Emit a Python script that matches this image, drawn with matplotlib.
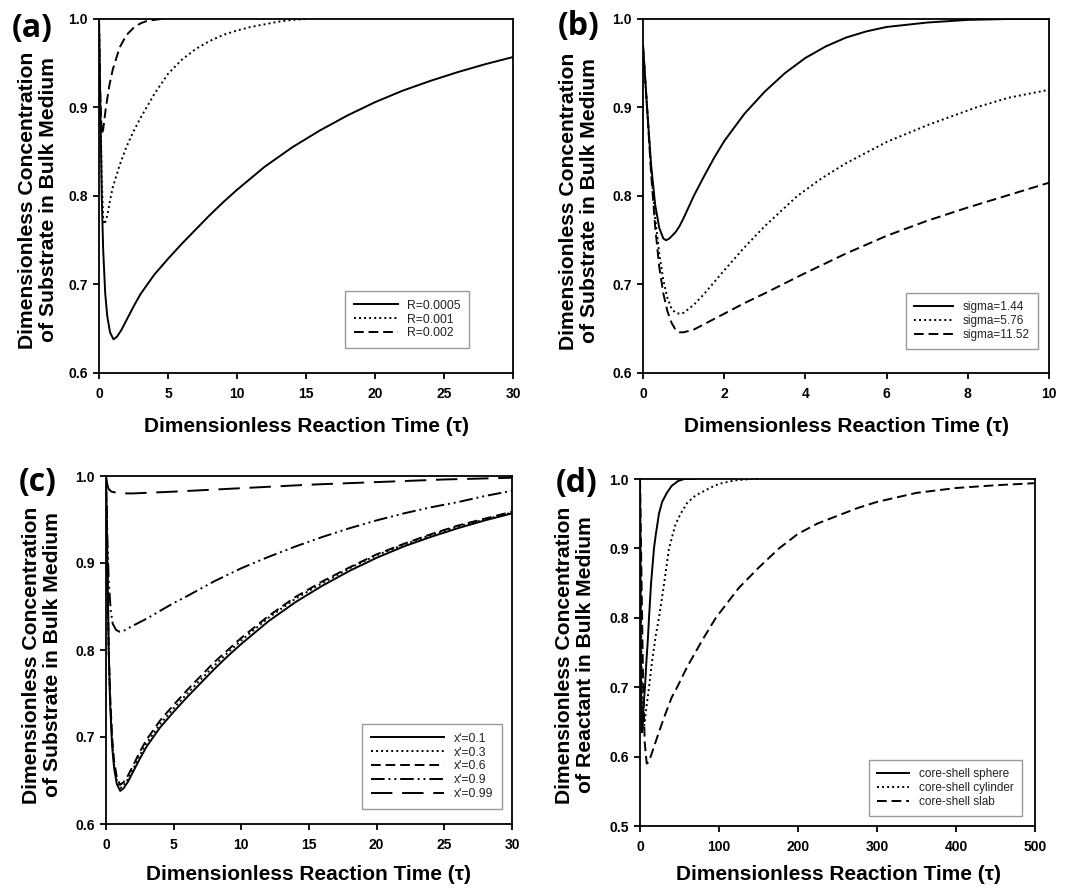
import matplotlib
matplotlib.use("Agg")
import matplotlib.pyplot as plt
from matplotlib.ticker import FormatStrFormatter, MultipleLocator

# ---------------- data ----------------
# (a) effect of R
a_t_r0005 = [0, 0.1, 0.2, 0.3, 0.45, 0.6, 0.8, 1.05, 1.3, 1.6, 2, 2.5, 3, 3.5, 4, 5, 6, 7, 8, 9,
             10, 12, 14, 16, 18, 20, 22, 24, 26, 28, 30]
a_c_r0005 = [1.0, 0.90, 0.80, 0.74, 0.69, 0.664, 0.646, 0.638, 0.641, 0.648, 0.660, 0.675, 0.689,
             0.700, 0.711, 0.729, 0.746, 0.762, 0.778, 0.793, 0.807, 0.833, 0.855, 0.874, 0.891,
             0.906, 0.919, 0.930, 0.940, 0.949, 0.957]
a_t_r001 = [0, 0.1, 0.2, 0.3, 0.4, 0.6, 0.8, 1.0, 1.5, 2, 2.5, 3, 4, 5, 6, 7, 8, 9, 10, 11, 12,
            13, 14, 15]
a_c_r001 = [1.0, 0.90, 0.82, 0.775, 0.768, 0.778, 0.795, 0.81, 0.835, 0.856, 0.873, 0.888, 0.915,
            0.938, 0.954, 0.966, 0.975, 0.982, 0.987, 0.991, 0.994, 0.997, 0.999, 1.0]
a_t_r002 = [0, 0.05, 0.1, 0.2, 0.3, 0.5, 0.75, 1.0, 1.5, 2, 2.5, 3, 3.5, 4, 4.5]
a_c_r002 = [1.0, 0.95, 0.91, 0.87, 0.875, 0.90, 0.925, 0.943, 0.968, 0.982, 0.99, 0.995, 0.998,
            0.999, 1.0]
a_labels = ["R=0.0005", "R=0.001", "R=0.002"]

# (b) effect of sigma
b_t_s144 = [0, 0.1, 0.2, 0.3, 0.4, 0.5, 0.57, 0.65, 0.8, 0.9, 1.0, 1.1, 1.25, 1.5, 1.75, 2, 2.5,
            3, 3.5, 4, 4.5, 5, 5.5, 6, 7, 8, 9, 10]
b_c_s144 = [0.97, 0.90, 0.835, 0.79, 0.764, 0.752, 0.750, 0.752, 0.759, 0.766, 0.775, 0.785,
            0.800, 0.822, 0.843, 0.862, 0.893, 0.918, 0.939, 0.956, 0.969, 0.979, 0.986, 0.991,
            0.996, 0.999, 1.0, 1.0]
b_t_s576 = [0, 0.1, 0.2, 0.3, 0.4, 0.5, 0.6, 0.7, 0.8, 0.9, 1.0, 1.25, 1.5, 2, 2.5, 3, 3.8, 4.4,
            5, 6, 7, 8.2, 9, 10]
b_c_s576 = [0.97, 0.90, 0.83, 0.775, 0.735, 0.705, 0.685, 0.673, 0.668, 0.667, 0.668, 0.677,
            0.689, 0.716, 0.742, 0.766, 0.800, 0.820, 0.837, 0.861, 0.880, 0.900, 0.911, 0.920]
b_t_s1152 = [0, 0.1, 0.2, 0.3, 0.4, 0.5, 0.6, 0.7, 0.8, 0.9, 1.0, 1.25, 1.5, 2, 2.5, 3, 4, 5, 6,
             7, 8, 9, 10]
b_c_s1152 = [0.97, 0.90, 0.825, 0.765, 0.72, 0.69, 0.67, 0.657, 0.649, 0.646, 0.646, 0.649,
             0.655, 0.667, 0.679, 0.690, 0.713, 0.735, 0.755, 0.772, 0.787, 0.801, 0.815]
b_labels = ["sigma=1.44", "sigma=5.76", "sigma=11.52"]

# (c) effect of x'
c_t_x01 = [0, 0.1, 0.2, 0.3, 0.45, 0.6, 0.8, 1.05, 1.3, 1.6, 2, 2.5, 3, 3.5, 4, 5, 6, 7, 8, 9,
           10, 12, 14, 16, 18, 20, 22, 24, 26, 28, 30]
c_c_x01 = [1.0, 0.90, 0.80, 0.74, 0.69, 0.664, 0.646, 0.638, 0.641, 0.648, 0.660, 0.675, 0.689,
           0.700, 0.711, 0.729, 0.746, 0.762, 0.778, 0.793, 0.807, 0.833, 0.855, 0.874, 0.891,
           0.906, 0.919, 0.930, 0.940, 0.949, 0.957]
c_c_x03 = [1.0, 0.90, 0.80, 0.745, 0.695, 0.668, 0.650, 0.641, 0.644, 0.651, 0.663, 0.679, 0.693,
           0.704, 0.715, 0.733, 0.750, 0.766, 0.782, 0.797, 0.811, 0.837, 0.859, 0.877, 0.894,
           0.909, 0.921, 0.932, 0.942, 0.950, 0.958]
c_c_x06 = [1.0, 0.90, 0.80, 0.75, 0.70, 0.672, 0.654, 0.645, 0.648, 0.655, 0.667, 0.683, 0.697,
           0.708, 0.719, 0.737, 0.754, 0.770, 0.786, 0.800, 0.814, 0.839, 0.861, 0.879, 0.895,
           0.910, 0.922, 0.933, 0.943, 0.951, 0.959]
c_t_x09 = [0, 0.1, 0.2, 0.35, 0.5, 0.75, 1.0, 1.3, 2, 3, 4, 5, 6, 8, 10, 12, 14, 16, 18, 20, 22,
           24, 26, 28, 30]
c_c_x09 = [1.0, 0.93, 0.88, 0.845, 0.83, 0.823, 0.821, 0.822, 0.828, 0.836, 0.845, 0.854, 0.862,
           0.879, 0.894, 0.907, 0.919, 0.930, 0.940, 0.949, 0.957, 0.964, 0.970, 0.977, 0.983]
c_t_x099 = [0, 0.1, 0.2, 0.4, 0.7, 1.0, 2, 5, 10, 15, 20, 25, 30]
c_c_x099 = [1.0, 0.99, 0.985, 0.982, 0.981, 0.980, 0.980, 0.982, 0.986, 0.990, 0.993, 0.996, 0.998]
c_labels = ["x'=0.1", "x'=0.3", "x'=0.6", "x'=0.9", "x'=0.99"]

# (d) geometry
d_t_sphere = [0, 0.5, 1, 1.5, 2, 2.5, 3, 4, 5, 6.3, 8, 10, 11.4, 14, 17.7, 20, 24, 28, 34, 40,
              48, 56, 70]
d_c_sphere = [1.0, 0.90, 0.78, 0.69, 0.645, 0.635, 0.64, 0.66, 0.68, 0.70, 0.735, 0.77, 0.80,
              0.85, 0.90, 0.92, 0.95, 0.967, 0.98, 0.99, 0.997, 1.0, 1.0]
d_t_cyl = [0, 1, 2, 3, 4, 5, 6, 8, 11.4, 15, 20, 24, 30, 36.7, 45, 51.5, 60, 70, 80, 90, 100,
           120, 140, 150]
d_c_cyl = [1.0, 0.85, 0.72, 0.66, 0.64, 0.642, 0.65, 0.67, 0.70, 0.735, 0.775, 0.80, 0.845,
           0.90, 0.935, 0.95, 0.966, 0.976, 0.982, 0.988, 0.993, 0.998, 1.0, 1.0]
d_t_slab = [0, 2, 4, 6, 8.5, 11, 15, 20, 30, 40, 47, 60, 80, 96, 125, 150, 176, 200, 225, 250,
            275, 300, 350, 400, 450, 500]
d_c_slab = [1.0, 0.85, 0.70, 0.62, 0.59, 0.592, 0.605, 0.622, 0.655, 0.685, 0.70, 0.73, 0.77,
            0.80, 0.843, 0.872, 0.90, 0.921, 0.936, 0.947, 0.958, 0.967, 0.980, 0.987, 0.991,
            0.994]
d_labels = ["core-shell sphere", "core-shell cylinder", "core-shell slab"]

# ---------------- styling ----------------
W, H = 1066, 888
fig = plt.figure(figsize=(W / 100, H / 100), dpi=100)
BOLD = dict(family="Liberation Sans", weight="bold")

def px_axes(l, r, t, b):
    return fig.add_axes([l / W, 1 - b / H, (r - l) / W, (b - t) / H])

LW = 1.4
SOLID = "-"
DOT = (0, (1, 1.6))
DASH = (0, (5, 2.5))
DDOT = (0, (7, 2, 1, 2, 1, 2))
LDASH = (0, (11, 5))

def style(ax, xmax, xstep, ymin):
    ax.set_xlim(0, xmax)
    ax.set_ylim(ymin, 1.0)
    ax.xaxis.set_major_locator(MultipleLocator(xstep))
    ax.yaxis.set_major_locator(MultipleLocator(0.1))
    ax.yaxis.set_major_formatter(FormatStrFormatter("%.1f"))
    ax.tick_params(direction="out", length=4, width=1.3, labelsize=10, pad=6)
    ax.tick_params(axis="y", pad=4)
    for lab in ax.get_xticklabels() + ax.get_yticklabels():
        lab.set_fontfamily("Liberation Sans")
        lab.set_fontweight("bold")
    for s in ax.spines.values():
        s.set_linewidth(1.3)

def legend(ax, handles, labels, l, t, hl, fs=8.8):
    leg = ax.legend(handles, labels, loc="upper left",
                    bbox_to_anchor=(l / W, 1 - t / H), bbox_transform=fig.transFigure,
                    borderaxespad=0, frameon=True, fancybox=False, handlelength=hl,
                    handletextpad=0.8, labelspacing=0.16, borderpad=0.7,
                    prop=dict(family="Liberation Sans", size=fs))
    leg.get_frame().set_edgecolor("#808080")
    leg.get_frame().set_linewidth(1.0)
    for txt in leg.get_texts():
        txt.set_color("#222222")

def ylabel(x, y, line2):
    fig.text(x / W, 1 - y / H, "Dimensionless Concentration\n" + line2, rotation=90,
             ha="center", va="center", multialignment="center", fontsize=15.2,
             linespacing=1.15, **BOLD)

def xlabel(x, y):
    fig.text(x / W, 1 - y / H, "Dimensionless Reaction Time (\u03c4)", ha="center",
             va="center", fontsize=15, **BOLD)

def panel(x, y, s):
    fig.text(x / W, 1 - y / H, s, ha="center", va="center", fontsize=23,
             family="Open Sans", weight="bold")

# (a)
ax = px_axes(99, 513, 19, 373)
h1, = ax.plot(a_t_r0005, a_c_r0005, color="black", lw=LW, ls=SOLID)
h2, = ax.plot(a_t_r001, a_c_r001, color="black", lw=LW, ls=DOT)
h3, = ax.plot(a_t_r002, a_c_r002, color="black", lw=LW, ls=DASH)
style(ax, 30, 5, 0.6)
legend(ax, [h1, h2, h3], a_labels, 345, 291, 3.6)
ylabel(38, 200, "of Substrate in Bulk Medium")
xlabel(306, 426)
panel(32, 28, "(a)")

# (b)
ax = px_axes(643, 1049, 19, 373)
h1, = ax.plot(b_t_s144, b_c_s144, color="black", lw=LW, ls=SOLID)
h2, = ax.plot(b_t_s576, b_c_s576, color="black", lw=LW, ls=DOT)
h3, = ax.plot(b_t_s1152, b_c_s1152, color="black", lw=LW, ls=DASH)
style(ax, 10, 2, 0.6)
legend(ax, [h1, h2, h3], b_labels, 906, 293, 3.3, fs=8.5)
ylabel(579, 201, "of Substrate in Bulk Medium")
xlabel(846, 426)
panel(579, 27, "(b)")

# (c)
ax = px_axes(106, 512, 476, 824)
h1, = ax.plot(c_t_x01, c_c_x01, color="black", lw=LW, ls=SOLID)
h2, = ax.plot(c_t_x01, c_c_x03, color="black", lw=LW, ls=DOT)
h3, = ax.plot(c_t_x01, c_c_x06, color="black", lw=LW, ls=DASH)
h4, = ax.plot(c_t_x09, c_c_x09, color="black", lw=LW, ls=DDOT)
h5, = ax.plot(c_t_x099, c_c_x099, color="black", lw=LW, ls=LDASH)
style(ax, 30, 5, 0.6)
legend(ax, [h1, h2, h3, h4, h5], c_labels, 362, 724, 6.0)
ylabel(42, 655, "of Substrate in Bulk Medium")
xlabel(309, 874)
panel(38, 482, "(c)")

# (d)
ax = px_axes(640, 1035, 479, 826)
h1, = ax.plot(d_t_sphere, d_c_sphere, color="black", lw=LW, ls=SOLID)
h2, = ax.plot(d_t_cyl, d_c_cyl, color="black", lw=LW, ls=DOT)
h3, = ax.plot(d_t_slab, d_c_slab, color="black", lw=LW, ls=DASH)
style(ax, 500, 100, 0.5)
legend(ax, [h1, h2, h3], d_labels, 869, 760, 2.7, fs=8.5)
ylabel(575, 655, "of Reactant in Bulk Medium")
xlabel(838, 874)
panel(577, 483, "(d)")

fig.savefig("out.png", dpi=100)
